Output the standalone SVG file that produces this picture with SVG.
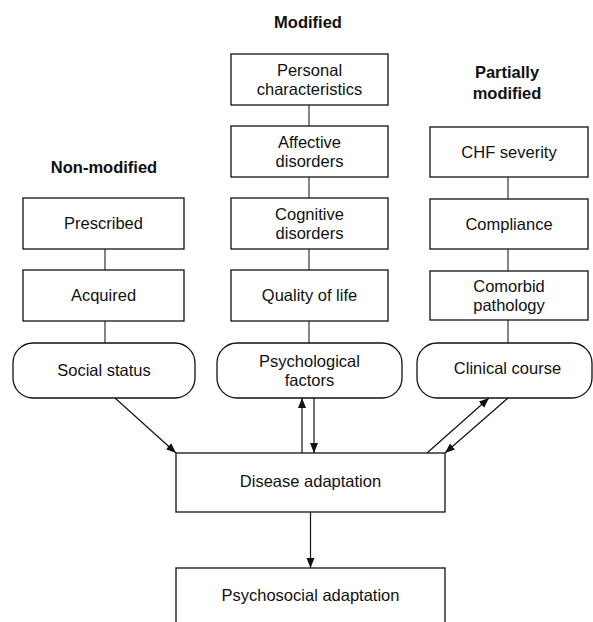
<svg xmlns="http://www.w3.org/2000/svg" width="593" height="622" viewBox="0 0 593 622">
<defs>
<style>
.box{fill:#fff;stroke:#111;stroke-width:1.3}
.t{font-family:"Liberation Sans",Arial,sans-serif;font-size:16.5px;fill:#111;text-anchor:middle}
.h{font-family:"Liberation Sans",Arial,sans-serif;font-size:16.5px;font-weight:bold;fill:#111;text-anchor:middle}
.ln{stroke:#333;stroke-width:1.2;fill:none}
.ar{stroke:#111;stroke-width:1.2;fill:none;marker-end:url(#ah)}
</style>
<marker id="ah" viewBox="0 0 10 10" refX="10" refY="5" markerWidth="10" markerHeight="10" markerUnits="userSpaceOnUse" orient="auto">
<path d="M0,1 L10,5 L0,9 Z" fill="#111"/>
</marker>
</defs>
<rect width="593" height="622" fill="#fff"/>
<g id="headings">
<text class="h" x="308" y="28">Modified</text>
<text class="h" x="104" y="173">Non-modified</text>
<text class="h"><tspan x="507" y="78">Partially</tspan><tspan x="507" y="99">modified</tspan></text>
</g>
<g id="connectors">
<line class="ln" x1="105" y1="249" x2="105" y2="270"/>
<line class="ln" x1="105" y1="321" x2="105" y2="343"/>
<line class="ln" x1="309" y1="105" x2="309" y2="126"/>
<line class="ln" x1="309" y1="177" x2="309" y2="198"/>
<line class="ln" x1="309" y1="249" x2="309" y2="270"/>
<line class="ln" x1="309" y1="321" x2="309" y2="343"/>
<line class="ln" x1="508" y1="177" x2="508" y2="199"/>
<line class="ln" x1="508" y1="249" x2="508" y2="271"/>
<line class="ln" x1="508" y1="320" x2="508" y2="343"/>
<line class="ar" x1="115" y1="398" x2="176" y2="453"/>
<line class="ar" x1="302" y1="453" x2="302" y2="398"/>
<line class="ar" x1="314" y1="398" x2="314" y2="453"/>
<line class="ar" x1="427" y1="453" x2="489" y2="398"/>
<line class="ar" x1="508" y1="398" x2="445" y2="453"/>
<line class="ar" x1="310.5" y1="512" x2="310.5" y2="568"/>
</g>
<g id="personal"><rect class="box" x="231" y="54" width="157" height="51"/><text class="t"><tspan x="309.5" y="76">Personal</tspan><tspan x="309.5" y="94.6">characteristics</tspan></text></g>
<g id="affective"><rect class="box" x="231" y="126" width="157" height="51"/><text class="t"><tspan x="309.5" y="148">Affective</tspan><tspan x="309.5" y="166.6">disorders</tspan></text></g>
<g id="cognitive"><rect class="box" x="231" y="198" width="157" height="51"/><text class="t"><tspan x="309.5" y="220">Cognitive</tspan><tspan x="309.5" y="238.6">disorders</tspan></text></g>
<g id="quality"><rect class="box" x="231" y="270" width="157" height="51"/><text class="t" x="309.5" y="301">Quality of life</text></g>
<g id="psychological"><rect class="box" x="217" y="343" width="185" height="55" rx="20"/><text class="t"><tspan x="309.5" y="367">Psychological</tspan><tspan x="309.5" y="386">factors</tspan></text></g>
<g id="prescribed"><rect class="box" x="23" y="198" width="161" height="51"/><text class="t" x="103.5" y="229">Prescribed</text></g>
<g id="acquired"><rect class="box" x="23" y="270" width="161" height="51"/><text class="t" x="103.5" y="301">Acquired</text></g>
<g id="social"><rect class="box" x="13" y="343" width="182" height="55" rx="20"/><text class="t" x="104" y="376">Social status</text></g>
<g id="chf"><rect class="box" x="430" y="127" width="158" height="50"/><text class="t" x="509" y="158">CHF severity</text></g>
<g id="compliance"><rect class="box" x="430" y="199" width="158" height="50"/><text class="t" x="509" y="230">Compliance</text></g>
<g id="comorbid"><rect class="box" x="430" y="271" width="158" height="49"/><text class="t"><tspan x="509" y="292">Comorbid</tspan><tspan x="509" y="310.6">pathology</tspan></text></g>
<g id="clinical"><rect class="box" x="417" y="343" width="175" height="55" rx="20"/><text class="t" x="507.5" y="374">Clinical course</text></g>
<g id="disease"><rect class="box" x="176" y="453" width="269" height="59"/><text class="t" x="310.5" y="487">Disease adaptation</text></g>
<g id="psychosocial"><rect class="box" x="176" y="568" width="269" height="70"/><text class="t" x="310.5" y="601">Psychosocial adaptation</text></g>
</svg>
